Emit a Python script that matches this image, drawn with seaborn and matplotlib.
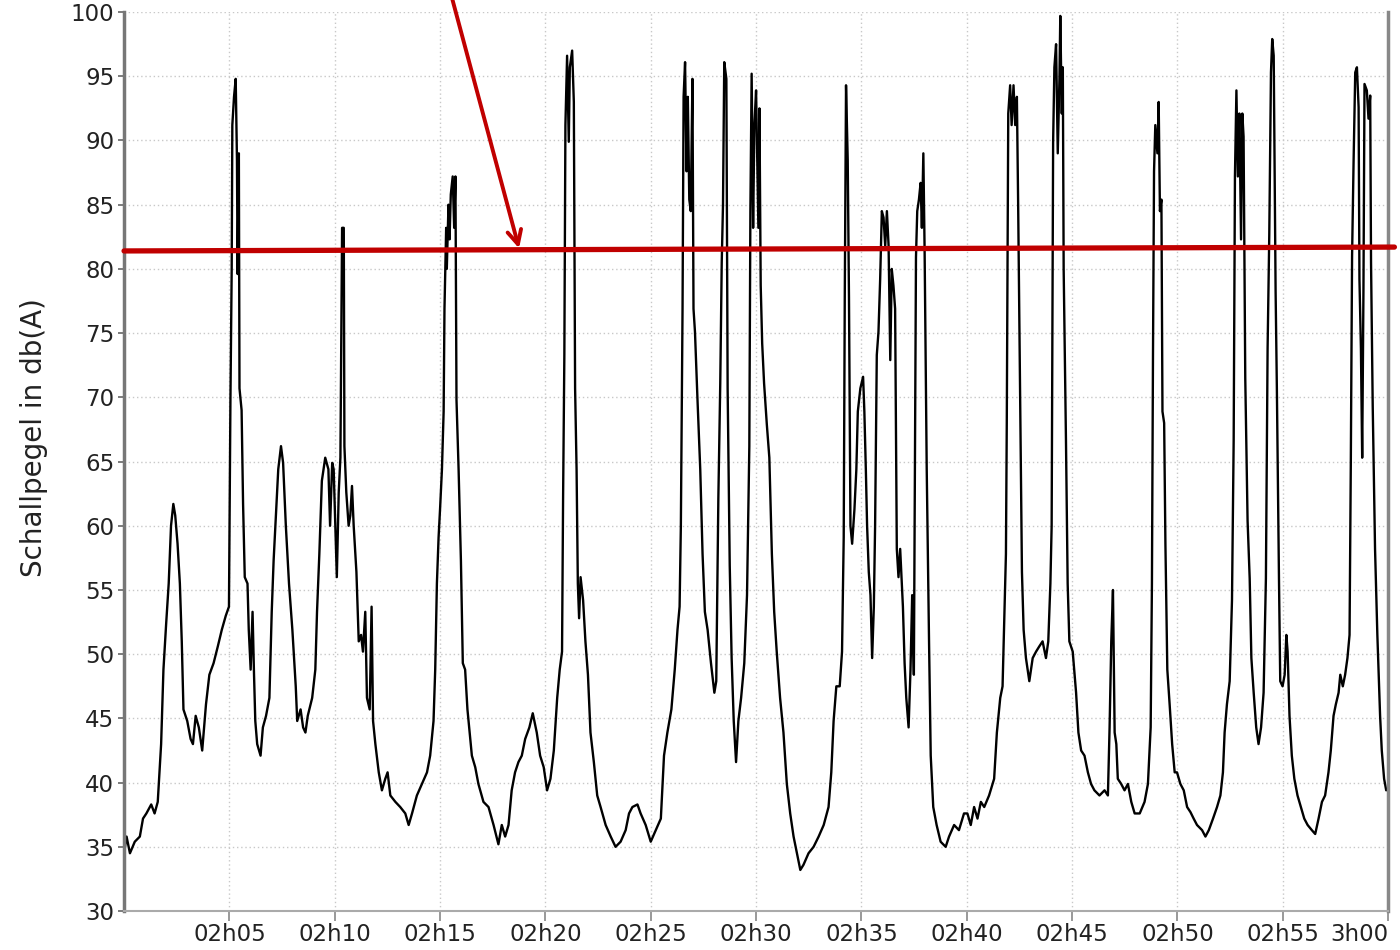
import numpy as np
import pandas as pd
import seaborn as sns
import matplotlib
matplotlib.use("Agg")
import matplotlib.pyplot as plt

# minutes after 02h00 and sound level in dB(A)
t_min = [
    0, 0.12, 0.28, 0.51, 0.75, 0.9, 1.06, 1.29, 1.45, 1.6, 1.76, 1.87, 2.0, 2.12, 2.23, 2.34, 2.43,
    2.54, 2.65, 2.74, 2.82, 3.0, 3.16, 3.27, 3.4, 3.55, 3.71, 3.89, 4.05, 4.25, 4.45, 4.64, 4.83,
    4.98, 5.05, 5.11, 5.14, 5.22, 5.3, 5.36, 5.39, 5.45, 5.48, 5.58, 5.65, 5.73, 5.86, 5.92, 6.01,
    6.1, 6.17, 6.23, 6.32, 6.48, 6.59, 6.74, 6.9, 7.01, 7.1, 7.21, 7.32, 7.45, 7.55, 7.68, 7.83,
    7.99, 8.15, 8.22, 8.38, 8.5, 8.61, 8.72, 8.93, 9.08, 9.16, 9.27, 9.39, 9.55, 9.7, 9.78, 9.88,
    9.95, 10.03, 10.1, 10.19, 10.27, 10.35, 10.43, 10.46, 10.55, 10.66, 10.74, 10.82, 10.9, 11.03,
    11.14, 11.25, 11.34, 11.45, 11.53, 11.66, 11.75, 11.82, 11.93, 12.09, 12.24, 12.4, 12.51, 12.64,
    12.88, 13.11, 13.35, 13.51, 13.67, 13.9, 14.14, 14.38, 14.53, 14.69, 14.77, 14.85, 14.93, 15.0,
    15.09, 15.17, 15.21, 15.29, 15.32, 15.4, 15.45, 15.51, 15.6, 15.67, 15.73, 15.78, 15.88, 15.99,
    16.08, 16.19, 16.3, 16.51, 16.67, 16.82, 17.06, 17.3, 17.54, 17.77, 17.93, 18.09, 18.25, 18.4,
    18.56, 18.72, 18.88, 19.04, 19.24, 19.4, 19.59, 19.75, 19.92, 20.08, 20.24, 20.4, 20.56, 20.68,
    20.79, 20.84, 20.9, 20.95, 21.03, 21.11, 21.16, 21.27, 21.35, 21.41, 21.48, 21.54, 21.6, 21.67,
    21.79, 21.9, 22.02, 22.14, 22.3, 22.46, 22.62, 22.86, 23.1, 23.33, 23.57, 23.81, 23.97, 24.13,
    24.37, 24.52, 24.76, 25.0, 25.24, 25.48, 25.63, 25.79, 25.98, 26.14, 26.27, 26.37, 26.43, 26.51,
    26.56, 26.63, 26.7, 26.76, 26.83, 26.9, 26.98, 27.03, 27.1, 27.22, 27.35, 27.46, 27.57, 27.7,
    27.86, 28.02, 28.11, 28.21, 28.3, 28.37, 28.43, 28.49, 28.59, 28.65, 28.75, 28.84, 28.94, 29.05,
    29.16, 29.29, 29.44, 29.57, 29.68, 29.73, 29.79, 29.86, 29.92, 30.0, 30.11, 30.16, 30.22, 30.29,
    30.38, 30.51, 30.63, 30.75, 30.86, 30.98, 31.14, 31.3, 31.46, 31.62, 31.78, 31.94, 32.1, 32.25,
    32.49, 32.73, 32.97, 33.21, 33.44, 33.57, 33.68, 33.81, 33.97, 34.08, 34.16, 34.21, 34.27, 34.35,
    34.41, 34.48, 34.56, 34.67, 34.76, 34.83, 34.95, 35.08, 35.14, 35.21, 35.27, 35.35, 35.43, 35.51,
    35.59, 35.65, 35.73, 35.81, 35.89, 35.97, 36.05, 36.13, 36.21, 36.29, 36.37, 36.44, 36.52, 36.6,
    36.68, 36.76, 36.84, 36.97, 37.05, 37.13, 37.24, 37.33, 37.41, 37.49, 37.54, 37.59, 37.65, 37.73,
    37.81, 37.87, 37.94, 38.0, 38.1, 38.21, 38.29, 38.41, 38.57, 38.76, 39.0, 39.16, 39.4, 39.63,
    39.87, 40.03, 40.19, 40.35, 40.51, 40.67, 40.83, 41.06, 41.3, 41.43, 41.59, 41.7, 41.78, 41.86,
    41.9, 41.97, 42.06, 42.13, 42.22, 42.3, 42.38, 42.44, 42.54, 42.62, 42.7, 42.81, 42.97, 43.13,
    43.29, 43.44, 43.6, 43.76, 43.87, 43.97, 44.03, 44.1, 44.16, 44.24, 44.32, 44.4, 44.44, 44.51,
    44.56, 44.6, 44.71, 44.79, 44.87, 45.03, 45.19, 45.3, 45.43, 45.59, 45.75, 45.9, 46.06, 46.3,
    46.54, 46.7, 46.78, 46.86, 46.94, 47.02, 47.1, 47.17, 47.33, 47.49, 47.65, 47.81, 47.97, 48.21,
    48.44, 48.6, 48.73, 48.79, 48.84, 48.89, 48.95, 49.05, 49.11, 49.17, 49.24, 49.29, 49.37, 49.43,
    49.52, 49.63, 49.75, 49.87, 49.98, 50.14, 50.3, 50.46, 50.62, 50.77, 50.93, 51.17, 51.33, 51.49,
    51.69, 51.88, 52.04, 52.16, 52.24, 52.35, 52.48, 52.59, 52.67, 52.73, 52.8, 52.87, 52.94, 53.02,
    53.08, 53.14, 53.22, 53.33, 53.43, 53.51, 53.62, 53.74, 53.85, 53.97, 54.09, 54.2, 54.28, 54.36,
    54.44, 54.5, 54.57, 54.66, 54.72, 54.82, 54.88, 54.99, 55.09, 55.17, 55.23, 55.32, 55.43, 55.55,
    55.7, 55.86, 56.02, 56.18, 56.38, 56.54, 56.7, 56.86, 57.01, 57.17, 57.28, 57.41, 57.52, 57.65,
    57.73, 57.85, 57.96, 58.07, 58.17, 58.23, 58.29, 58.36, 58.44, 58.52, 58.6, 58.64, 58.71, 58.77,
    58.83, 58.88, 58.99, 59.07, 59.15, 59.19, 59.27, 59.38, 59.49, 59.62, 59.7, 59.81, 59.91,
]
level_db = [
    34.5, 35.8, 34.5, 35.4, 35.8, 37.2, 37.6, 38.3, 37.6, 38.5, 43, 48.8, 52.4, 55.5, 60, 61.7, 60.8,
    58.6, 55.5, 51, 45.7, 44.8, 43.4, 43, 45.2, 44.3, 42.5, 46.1, 48.4, 49.3, 50.6, 51.9, 53,
    53.7, 69.8, 80, 91.2, 93.4, 94.8, 88.5, 79.6, 89, 70.7, 69, 61.7, 56, 55.5, 51.9, 48.8,
    53.3, 48.4, 44.8, 43, 42.1, 44.3, 45.2, 46.6, 53.3, 57.3, 60.8, 64.4, 66.2, 64.9, 60, 55.5,
    51.9, 47.5, 44.8, 45.7, 44.3, 43.9, 45.2, 46.6, 48.8, 53.3, 57.8, 63.5, 65.3, 64.4, 60, 64.9,
    64.4, 60, 56, 62.6, 65.3, 83.2, 83.2, 66.2, 62.6, 60, 60.8, 63.1, 60, 56.4,
    51, 51.5, 50.2, 53.3, 46.6, 45.7, 53.7, 44.8, 43, 40.8, 39.4, 40.3, 40.8, 39,
    38.5, 38.1, 37.6, 36.7, 37.6, 39, 39.9, 40.8, 42.1, 44.8, 48.8, 55.5, 59.1, 61.3,
    64.4, 68.9, 76.9, 83.2, 80, 85, 82.3, 85.8, 87.2, 83.2, 87.2, 69.8, 64.4, 57.3,
    49.3, 48.8, 45.7, 42.1, 41.2, 39.9, 38.5, 38.1, 36.7, 35.2, 36.7, 35.8, 36.7, 39.4,
    40.8, 41.6, 42.1, 43.4, 44.3, 45.4, 43.9, 42.1, 41.2, 39.4, 40.3, 42.5, 46.6, 48.8,
    50.2, 62.2, 73.3, 91.2, 96.6, 89.9, 95.7, 97, 93, 70.7, 64.4, 55.5, 52.8, 56,
    54.2, 51, 48.4, 43.9, 41.6, 39, 38.1, 36.7, 35.8, 35, 35.4, 36.3, 37.6, 38.1,
    38.3, 37.6, 36.7, 35.4, 36.3, 37.2, 42.1, 43.9, 45.7, 48.8, 51.9, 53.7, 60, 76.9,
    93.4, 96.1, 87.6, 93.4, 85.4, 84.5, 94.8, 76.9, 75.1, 69.8, 64.4, 57.8, 53.3, 51.9,
    49.3, 47, 47.9, 62.2, 71.1, 80.5, 85, 96.1, 94.8, 70.7, 56.9, 49.7, 44.8, 41.6,
    44.8, 46.6, 49.3, 54.6, 66.2, 84.5, 95.2, 83.2, 91.2, 93.9, 83.2, 92.5, 78.7, 74.2,
    71.1, 67.9, 65.3, 57.8, 53.3, 50.2, 46.6, 43.9, 39.9, 37.6, 35.8, 34.5, 33.2, 33.6,
    34.5, 35, 35.8, 36.7, 38.1, 40.8, 44.8, 47.5, 47.5, 50.2, 59.1, 77.8, 94.3, 88.5,
    77.8, 60, 58.6, 61.3, 64.4, 68.9, 70.7, 71.6, 68.9, 64.4, 60, 56.4, 54.6, 49.7,
    53.7, 60, 73.3, 75.1, 79.2, 84.5, 84, 81.8, 84.5, 81.8, 72.9, 80, 78.7, 76.9,
    58.2, 56, 58.2, 53.7, 49.3, 46.6, 44.3, 48.8, 54.6, 48.4, 64.4, 80.9, 84.5, 85.4,
    86.7, 83.2, 89, 81.4, 64.4, 51, 42.1, 38.1, 36.7, 35.4, 35, 35.8, 36.7, 36.3,
    37.6, 37.6, 36.7, 38.1, 37.2, 38.5, 38.1, 39, 40.3, 43.9, 46.6, 47.5, 52.8, 57.8,
    68, 92.1, 94.3, 91.2, 94.3, 91.2, 93.4, 85, 68.9, 56.4, 51.9, 49.7, 47.9, 49.7,
    50.2, 50.6, 51, 49.7, 51, 55.5, 60, 89.9, 95.7, 97.5, 89, 94.8, 99.7, 92.1,
    95.7, 80, 66.6, 55.5, 51, 50.2, 47, 43.9, 42.5, 42.1, 40.8, 39.9, 39.4, 39,
    39.4, 39, 44.3, 51, 55, 43.9, 43, 40.3, 39.9, 39.4, 39.9, 38.5, 37.6, 37.6,
    38.5, 39.9, 44.3, 55.5, 73.3, 87.6, 91.2, 89, 93, 84.5, 85.4, 68.9, 68, 58.6,
    48.8, 46.1, 43, 40.8, 40.8, 39.9, 39.4, 38.1, 37.7, 37.2, 36.7, 36.3, 35.8, 36.3,
    37.2, 38.1, 39, 40.8, 43.9, 46.1, 47.9, 54.2, 66.7, 87.2, 93.9, 87.2, 92.1, 82.3,
    92.1, 90.3, 71.5, 60.4, 55.9, 49.7, 47, 44.3, 43, 44.3, 47, 55.9, 73.8, 82.7,
    95.3, 97.9, 96.6, 78.3, 70.7, 55.9, 47.9, 47.5, 48.4, 51.5, 50.2, 45.2, 42.1, 40.3,
    39, 38.1, 37.2, 36.7, 36.3, 36, 37.2, 38.5, 39, 40.8, 42.5, 45.2, 46.1, 47,
    48.4, 47.5, 48.4, 49.7, 51.5, 64.9, 81, 88.2, 95.3, 95.7, 92.6, 79.2, 73.8, 65.3,
    78.3, 94.4, 93.9, 91.7, 93.5, 80.5, 69.3, 58.2, 51.5, 45.2, 42.5, 40.3, 39.4,
]

# threshold line (left / right end) in dB(A)
threshold_t = [0, 60.3]
threshold_db = [81.4, 81.7]

tick_pos = [5, 10, 15, 20, 25, 30, 35, 40, 45, 50, 55, 60]
tick_labels = ["02h05", "02h10", "02h15", "02h20", "02h25", "02h30",
               "02h35", "02h40", "02h45", "02h50", "02h55", "3h00"]
y_ticks = list(range(30, 101, 5))

df = pd.DataFrame({"t": t_min, "db": level_db})

sns.set_style("white")
plt.rcParams["font.family"] = ["DejaVu Sans"]

fig = plt.figure(figsize=(14, 9.5), dpi=100)
ax = fig.add_axes([0.0886, 0.041, 0.9029, 0.9463])

sns.lineplot(data=df, x="t", y="db", color="black", linewidth=1.7, ax=ax)

red = "#c00000"
ax.plot(threshold_t, threshold_db, color=red, linewidth=3.8, clip_on=False, zorder=5)
ax.annotate("", xy=(18.75, 81.6), xytext=(15.55, 101.2),
            arrowprops=dict(arrowstyle="->,head_length=1.0,head_width=0.5",
                            color=red, lw=2.8, shrinkA=0, shrinkB=0),
            annotation_clip=False, zorder=6)

ax.set_xlim(0, 60)
ax.set_ylim(30, 100)
ax.set_xticks(tick_pos)
ax.set_xticklabels(tick_labels)
ax.set_yticks(y_ticks)
ax.set_xlabel("")
ax.set_ylabel("Schallpegel in db(A)", fontsize=20, color="#222222")
ax.yaxis.set_label_coords(-0.06, 0.527)

ax.grid(True, color="#c8c8c8", linestyle=(0, (1, 2)), linewidth=1)
ax.tick_params(axis="x", labelsize=16.5, colors="#222222", length=7, width=1.2, pad=1.5,
               bottom=True, color="#888888")
ax.tick_params(axis="y", labelsize=16.5, colors="#222222", length=4, width=1.2, pad=3,
               left=True, color="#666666")
# last label sits left of its tick, as in the original
last = ax.get_xticklabels()[-1]
last.set_horizontalalignment("right")

ax.spines["top"].set_visible(False)
ax.spines["left"].set_color("#777777")
ax.spines["left"].set_linewidth(2.5)
ax.spines["bottom"].set_color("#aaaaaa")
ax.spines["bottom"].set_linewidth(1.5)
ax.spines["right"].set_color("#888888")
ax.spines["right"].set_linewidth(2.5)

fig.savefig("out.png", dpi=100, facecolor="white")
